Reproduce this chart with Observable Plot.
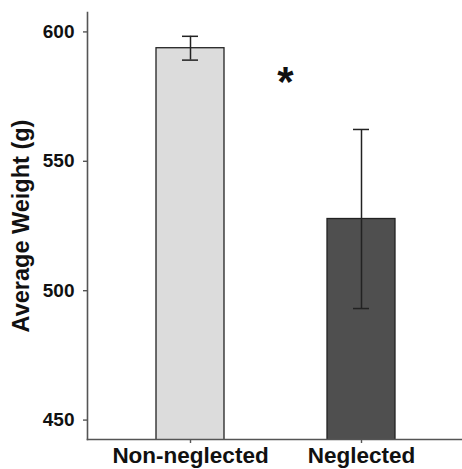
<!DOCTYPE html>
<html>
<head>
<meta charset="utf-8">
<script src="https://cdn.jsdelivr.net/npm/d3@7"></script>
<script src="https://cdn.jsdelivr.net/npm/@observablehq/plot@0.6"></script>
<style>
  html, body { margin: 0; padding: 0; background: #fff; }
  svg { display: block; }
</style>
</head>
<body>
<div id="chart"></div>
<script>
const categories = ["Non-neglected", "Neglected"];
const means = [593.7, 527.7];
const errors = [4.6, 34.6];
const fills = ["#dcdcdc", "#4f4f4f"];
const yTicks = [450, 500, 550, 600];
const yTitle = "Average Weight (g)";
const starLabel = "*";
const starCategory = "Non-neglected";
const starValue = 580.5;

const data = categories.map((c, i) => ({
  group: c, mean: means[i], lo: means[i] - errors[i], hi: means[i] + errors[i], fill: fills[i]
}));

const font = "'Liberation Sans', Arial, Helvetica, sans-serif";
const axisColor = "#555";

const chart = Plot.plot({
  width: 462,
  height: 469,
  marginTop: 12,
  marginBottom: 30,
  marginLeft: 87,
  marginRight: 0,
  style: { fontFamily: font, background: "#fff", color: "#000" },
  x: { type: "band", domain: categories, range: [87, 465], paddingInner: 0.6, paddingOuter: 0.4, axis: null },
  y: { domain: [442.5, 607.5], axis: null },
  marks: [
    Plot.rectY(data, { x: "group", y1: 0, y2: "mean", fill: "fill", stroke: "#222", strokeWidth: 1.3, clip: true }),
    Plot.ruleX(data, { x: "group", y1: "lo", y2: "hi", stroke: "#222", strokeWidth: 1.5 }),
    Plot.tickY(data, { x: "group", y: "lo", stroke: "#222", strokeWidth: 1.5, insetLeft: 26, insetRight: 26 }),
    Plot.tickY(data, { x: "group", y: "hi", stroke: "#222", strokeWidth: 1.5, insetLeft: 26, insetRight: 26 }),
    Plot.frame({ anchor: "left", stroke: axisColor, strokeWidth: 1.6 }),
    Plot.frame({ anchor: "bottom", stroke: axisColor, strokeWidth: 1.6 }),
    Plot.axisY({ ticks: yTicks, tickSize: 4, tickPadding: 9, fontSize: 19, fontWeight: "bold", stroke: axisColor, strokeWidth: 1.4, label: null, fill: "#111" }),
    Plot.axisX({ domain: categories, tickSize: 4, tickPadding: 4, fontSize: 22.5, fontWeight: "bold", stroke: axisColor, strokeWidth: 1.4, label: null, fill: "#111" }),
    Plot.text([yTitle], { frameAnchor: "left", textAnchor: "middle", rotate: -90, dx: -66, fontSize: 23.5, fontWeight: "bold", fill: "#111", text: d => d }),
    Plot.text([starLabel], { x: () => starCategory, y: () => starValue, dx: 95, fontSize: 42, fontWeight: "bold", fill: "#111", text: d => d })
  ]
});
document.getElementById("chart").appendChild(chart);
</script>
</body>
</html>
